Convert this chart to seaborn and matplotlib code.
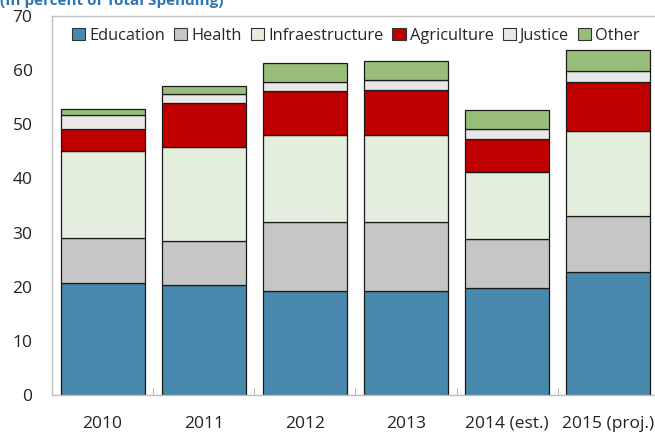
import matplotlib
matplotlib.use("Agg")
import matplotlib.pyplot as plt
import seaborn as sns
import pandas as pd
import numpy as np

years = ["2010", "2011", "2012", "2013", "2014 (est.)", "2015 (proj.)"]
sectors = ["Education", "Health", "Infraestructure", "Agriculture", "Justice", "Other"]

education = [20.7, 20.3, 19.2, 19.3, 19.7, 22.8]
health = [8.3, 8.1, 12.8, 12.7, 9.2, 10.3]
infrastructure = [16.1, 17.4, 16.1, 16.0, 12.2, 15.7]
agriculture = [4.0, 8.2, 8.1, 8.3, 6.2, 9.1]
justice = [2.7, 1.6, 1.6, 1.8, 1.8, 2.0]
other = [1.1, 1.5, 3.6, 3.5, 3.5, 3.8]

colors = ["#4A89AE", "#C6C6C6", "#E4EEDC", "#C00000", "#E8E8E8", "#98BE7A"]

series = [education, health, infrastructure, agriculture, justice, other]
df = pd.DataFrame({"year": np.repeat(years, len(sectors)),
                   "sector": sectors * len(years),
                   "value": [series[j][i] for i in range(len(years)) for j in range(len(sectors))]})

sns.set_theme(style="white")
plt.rcParams["font.family"] = ["Open Sans", "DejaVu Sans"]

fig = plt.figure(figsize=(6.55, 4.37), dpi=100)
ax = fig.add_axes([52 / 655, 1 - 395 / 437, 607 / 655, 379 / 437])

bottom = np.zeros(len(years))
for name, col in zip(sectors, colors):
    vals = df[df["sector"] == name].set_index("year").loc[years, "value"].values
    sns.barplot(x=years, y=vals, bottom=bottom, color=col, width=0.83,
                edgecolor="#1a1a1a", linewidth=0.9, label=name, ax=ax,
                saturation=1)
    bottom = bottom + vals

ax.set_ylim(0, 70)
ax.set_xlim(-0.5, len(years) - 0.5)
ax.set_yticks(range(0, 71, 10))
ax.set_xlabel("")
ax.set_ylabel("")
ax.tick_params(axis="y", labelsize=12.5, colors="#222222", length=0, pad=14)
ax.tick_params(axis="x", labelsize=12.5, colors="#222222", length=0, pad=15)

# category separator ticks along the base
for b in np.arange(0.5, len(years) - 0.5, 1.0):
    ax.plot([b, b], [0, 1.3], color="#BBBBBB", lw=0.8, clip_on=False)

for s in ["left", "top", "bottom", "right"]:
    ax.spines[s].set_color("#BFBFBF")
    ax.spines[s].set_linewidth(1.0)

leg = ax.legend(loc="upper left", bbox_to_anchor=(0.017, 0.995), ncol=6, frameon=False,
                fontsize=11.8, handlelength=0.8, handleheight=0.8, handletextpad=0.25,
                columnspacing=0.55, borderaxespad=0.2)
for h in leg.legend_handles:
    h.set_edgecolor("#333333")
    h.set_linewidth(0.8)

fig.text(0.0, 1 - 4.5 / 437, "(In percent of Total Spending)", color="#2E75B6",
         fontsize=11, fontweight="bold", va="baseline", ha="left")

fig.savefig("out.png", dpi=100)
